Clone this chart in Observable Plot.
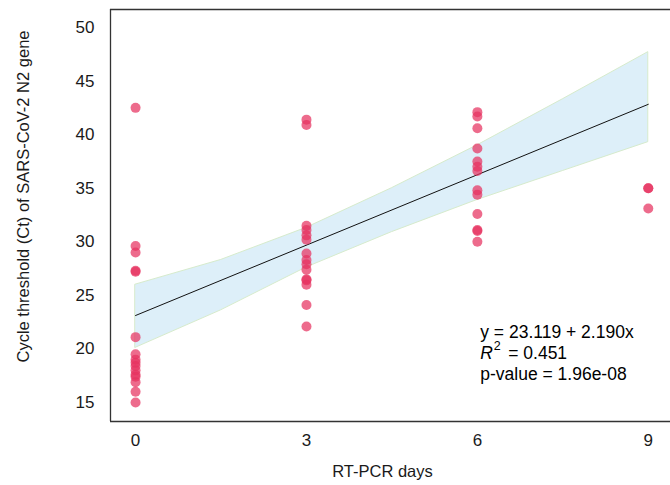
<!DOCTYPE html>
<html>
<head>
<meta charset="utf-8">
<script src="https://cdn.jsdelivr.net/npm/d3@7"></script>
<script src="https://cdn.jsdelivr.net/npm/@observablehq/plot@0.6"></script>
<style>
  html, body { margin: 0; padding: 0; background: #fff; }
  #chart { width: 670px; height: 485px; }
</style>
</head>
<body>
<div id="chart"></div>
<script>
// ---- data ----
const ctDay0 = [42.5, 29.6, 29.0, 27.3, 27.2, 21.1, 19.5, 19.0, 18.7, 18.4, 18.0, 17.6, 17.4, 16.9, 16.0, 15.0];
const ctDay3 = [41.4, 40.9, 31.5, 31.1, 30.6, 30.2, 28.9, 28.3, 27.9, 27.4, 26.5, 26.4, 26.0, 24.1, 22.1];
const ctDay6 = [42.1, 41.7, 40.6, 38.7, 37.5, 37.0, 36.6, 34.8, 34.4, 32.6, 31.1, 31.0, 30.0];
const ctDay9 = [35.0, 35.0, 33.1];
const dayValues = [0, 3, 6, 9];

const bandX     = [0,    1.5,  3,    4.5,  6,    7.5,  9];
const bandUpper = [26.0, 28.3, 31.3, 35.0, 39.0, 43.3, 47.7];
const bandLower = [20.1, 23.6, 27.6, 30.9, 33.9, 36.6, 39.3];

const intercept = 23.119;
const slope = 2.190;
const annotationLines = ["y = 23.119 + 2.190x", "= 0.451", "p-value = 1.96e-08"];
const xTicks = [0, 3, 6, 9];
const yTicks = [15, 20, 25, 30, 35, 40, 45, 50];
const xLabel = "RT-PCR days";
const yLabel = "Cycle threshold (Ct) of SARS-CoV-2 N2 gene";

// ---- tables built from the arrays ----
const points = [ctDay0, ctDay3, ctDay6, ctDay9].flatMap((arr, i) => arr.map(ct => ({day: dayValues[i], ct})));
const band = bandX.map((x, i) => ({x, lo: bandLower[i], hi: bandUpper[i]}));
const fit = [0, 9].map(x => ({x, y: intercept + slope * x}));

const xDomain = [-0.44, 9.39];
const yDomain = [13.227, 51.68];
const annX = 6.05;
const annY = [21.56, 19.6, 17.6];

const font = "Liberation Sans, Arial, sans-serif";

const chart = Plot.plot({
  width: 670,
  height: 485,
  marginLeft: 110,
  marginRight: 0,
  marginTop: 9,
  marginBottom: 64,
  style: {fontFamily: font, fontSize: "17px", color: "#1a1a1a", background: "#fff"},
  x: {domain: xDomain, ticks: xTicks, tickSize: 0, tickPadding: 12, label: null},
  y: {domain: yDomain, ticks: yTicks, tickSize: 0, tickPadding: 16, label: null},
  marks: [
    Plot.areaY(band, {x: "x", y1: "lo", y2: "hi", fill: "#ddeff9", stroke: "#d6ebcc", strokeWidth: 1}),
    Plot.line(fit, {x: "x", y: "y", stroke: "#111", strokeWidth: 1}),
    Plot.dot(points, {x: "day", y: "ct", r: 5, fill: "#e6325f", fillOpacity: 0.72, stroke: "none"}),
    Plot.ruleX([xDomain[0]], {stroke: "#333", strokeWidth: 1.3}),
    Plot.ruleY(yDomain, {stroke: "#333", strokeWidth: 1.3}),
    Plot.text([annotationLines[0]], {x: () => annX, y: () => annY[0], textAnchor: "start", fontSize: 17.5, fill: "#000"}),
    Plot.text(["R"], {x: () => annX, y: () => annY[1], textAnchor: "start", fontSize: 17.5, fontStyle: "italic", fill: "#000"}),
    Plot.text(["2"], {x: () => annX, y: () => annY[1], textAnchor: "start", fontSize: 12.5, dx: 13.5, dy: -7, fill: "#000"}),
    Plot.text([annotationLines[1]], {x: () => annX, y: () => annY[1], textAnchor: "start", fontSize: 17.5, dx: 28, fill: "#000"}),
    Plot.text([annotationLines[2]], {x: () => annX, y: () => annY[2], textAnchor: "start", fontSize: 17.5, fill: "#000"}),
    Plot.text([xLabel], {frameAnchor: "bottom", textAnchor: "middle", dx: -8, dy: 55, fontSize: 16.5, fill: "#1a1a1a"}),
    Plot.text([yLabel], {frameAnchor: "left", textAnchor: "middle", rotate: -90, dx: -87, dy: -19, fontSize: 16.5, fill: "#1a1a1a"})
  ]
});
document.getElementById("chart").appendChild(chart);
</script>
</body>
</html>
